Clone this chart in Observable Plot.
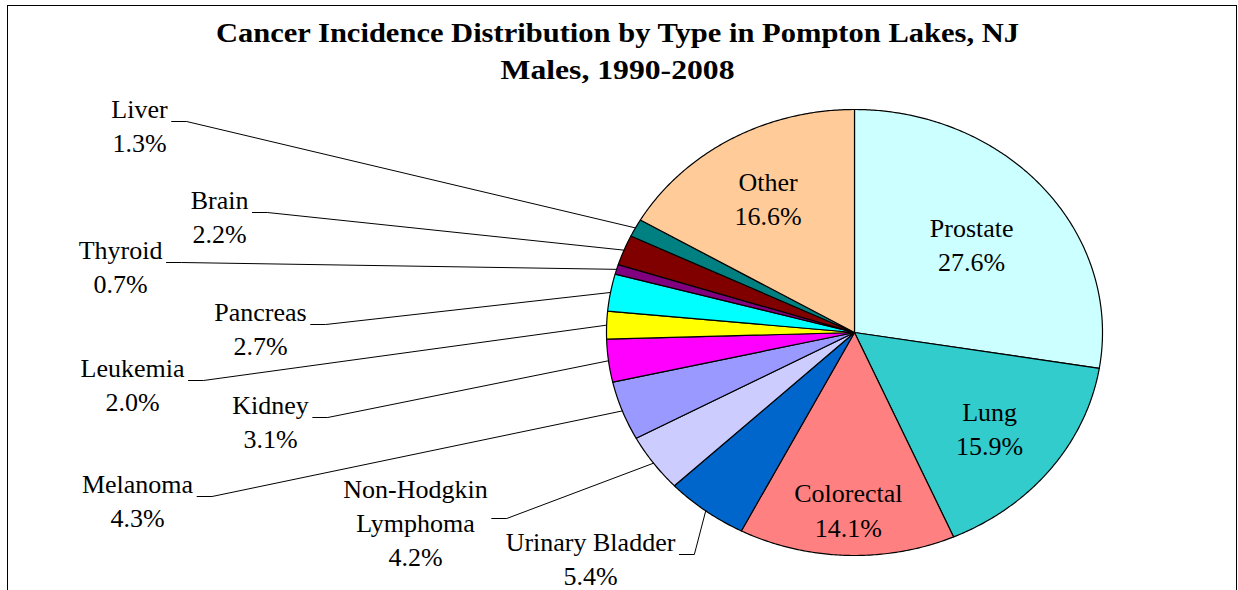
<!DOCTYPE html>
<html><head><meta charset="utf-8">
<script src="https://cdn.jsdelivr.net/npm/d3@7"></script>
<script src="https://cdn.jsdelivr.net/npm/@observablehq/plot@0.6"></script>
<style>
html,body{margin:0;padding:0;background:#fff;overflow:hidden;}
#wrap{position:relative;width:1238px;height:590px;}
#frame{position:absolute;left:7px;top:5px;width:1230px;height:700px;border:1.5px solid #000;box-sizing:border-box;}
#chart{position:absolute;left:0;top:0;}
#chart svg, #chart text{font-family:"Liberation Serif","Times New Roman","DejaVu Serif",serif !important;}
</style></head><body>
<div id="wrap"><div id="frame"></div><div id="chart"></div></div>
<script>
// ---- data ----
const categories = ["Prostate","Lung","Colorectal","Urinary Bladder","Non-Hodgkin Lymphoma","Melanoma","Kidney","Leukemia","Pancreas","Thyroid","Brain","Liver","Other"];
const labelNames = ["Prostate","Lung","Colorectal","Urinary Bladder","Non-Hodgkin\nLymphoma","Melanoma","Kidney","Leukemia","Pancreas","Thyroid","Brain","Liver","Other"];
const percents = [27.6,15.9,14.1,5.4,4.2,4.3,3.1,2.0,2.7,0.7,2.2,1.3,16.6];
const colors = ["#CCFFFF","#33CCCC","#FF8080","#0066CC","#CCCCFF","#9999FF","#FF00FF","#FFFF00","#00FFFF","#800080","#800000","#008080","#FFCC99"];
const title = "Cancer Incidence Distribution by Type in Pompton Lakes, NJ";
const subtitle = "Males, 1990-2008";

// ---- layout ----
const W = 1238, H = 590;
const CX = 854, CY = 332, RX = 248, RY = 223;
const FONT = '"Liberation Serif", "Times New Roman", serif', FS = 26, LH = 1.31;
const TITLE_W = {[title]: 803, [subtitle]: 234};
// labels drawn inside the pie: radius fraction along slice mid-angle
const insideR = {"Prostate":0.62, "Lung":0.69, "Colorectal":0.79, "Other":0.70};
// labels drawn outside with leader lines: block centre
const outsidePos = {
  "Urinary Bladder":[590,557], "Non-Hodgkin Lymphoma":[415,521], "Melanoma":[137,499],
  "Kidney":[270,420], "Leukemia":[132,383], "Pancreas":[260,327], "Thyroid":[120,265],
  "Brain":[219,215], "Liver":[139,124]
};

const total = d3.sum(percents);
const pt = (a, r) => ({x: CX + RX * r * Math.sin(a), y: CY - RY * r * Math.cos(a)});
let cum = 0;
const slices = categories.map((c, i) => {
  const a0 = cum / total * 2 * Math.PI;
  cum += percents[i];
  const a1 = cum / total * 2 * Math.PI;
  return {name: c, label: labelNames[i], value: percents[i], color: colors[i], a0, a1, mid: (a0 + a1) / 2};
});

const marks = [];
for (const s of slices) {
  const pts = [pt(0, 0)];
  const n = Math.max(2, Math.ceil((s.a1 - s.a0) / (Math.PI / 360)));
  for (let k = 0; k <= n; k++) pts.push(pt(s.a0 + (s.a1 - s.a0) * k / n, 1));
  pts.push(pt(0, 0));
  marks.push(Plot.line(pts, {x: "x", y: "y", fill: s.color, stroke: "#000", strokeWidth: 1.2, strokeLinejoin: "round"}));
}

const ctx = document.createElement("canvas").getContext("2d");
ctx.font = `${FS}px ${FONT}`;
const textRows = [];
for (const s of slices) {
  const txt = `${s.label}\n${s.value.toFixed(1)}%`;
  if (insideR[s.name] != null) {
    const p = pt(s.mid, insideR[s.name]);
    textRows.push({x: p.x, y: p.y, t: txt});
  } else {
    const [x, y] = outsidePos[s.name];
    textRows.push({x, y, t: txt});
    const w = d3.max(s.label.split("\n"), l => ctx.measureText(l).width);
    const sx = x + w / 2 + 4, sy = y - 3;
    const end = pt(s.mid, 1);
    marks.push(Plot.line([{x: sx, y: sy}, {x: sx + 15, y: sy}, end], {x: "x", y: "y", stroke: "#000", strokeWidth: 1}));
  }
}
marks.push(Plot.text(textRows, {x: "x", y: "y", text: "t", fontFamily: FONT, fontSize: FS, lineHeight: LH, textAnchor: "middle", fill: "#000"}));
marks.push(Plot.text([{x: 617, y: 33, t: title}, {x: 617, y: 70, t: subtitle}],
  {x: "x", y: "y", text: "t", fontFamily: FONT, fontSize: 28, fontWeight: "bold", textAnchor: "middle", fill: "#000"}));

const chart = Plot.plot({
  width: W, height: H, margin: 0,
  x: {domain: [0, W], range: [0, W], axis: null},
  y: {domain: [0, H], range: [0, H], axis: null},
  style: {background: "transparent"},
  marks
});
// stretch the bold title lines horizontally like the reference
chart.querySelectorAll("text").forEach(t => {
  const w = TITLE_W[t.textContent];
  if (w) { t.setAttribute("textLength", w); t.setAttribute("lengthAdjust", "spacingAndGlyphs"); }
});
document.getElementById("chart").appendChild(chart);
</script>
</body></html>
